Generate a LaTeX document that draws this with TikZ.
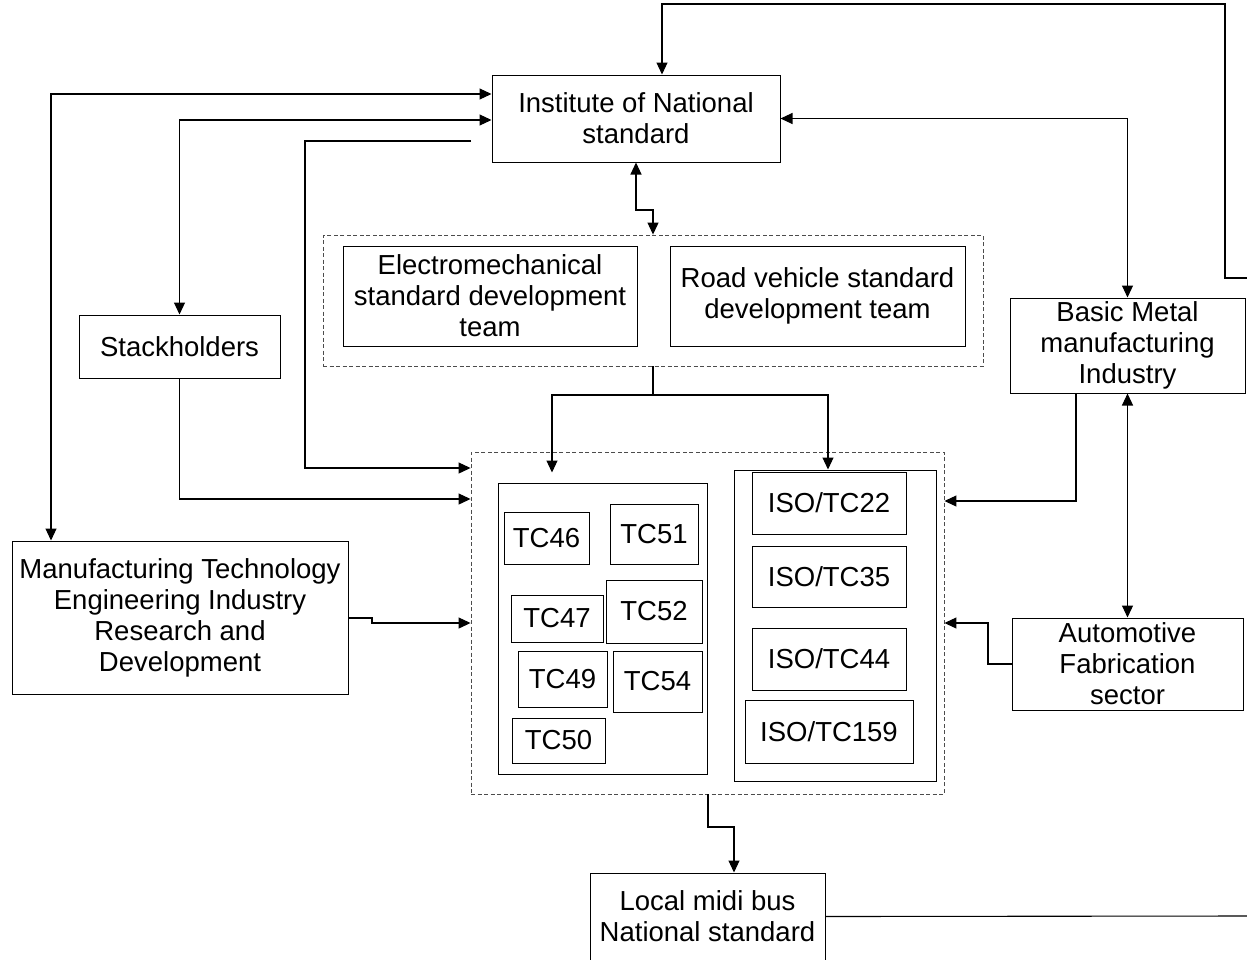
\documentclass[tikz,border=0pt]{standalone}
\usepackage{fontspec}
\setmainfont{Liberation Sans}
\usetikzlibrary{arrows.meta}
\begin{document}
\begin{tikzpicture}[x=1pt,y=-1pt,
  every node/.style={font=\fontsize{27.5}{31}\selectfont, align=center, inner sep=0pt},
  box/.style={draw=black, line width=1pt, rectangle},
  dbox/.style={draw=gray!60!black, line width=0.9pt, dash pattern=on 4pt off 2.5pt, rectangle},
  conn/.style={line width=1.1pt, -{Triangle[length=12pt,width=11pt]}},
  bconn/.style={line width=1.1pt, {Triangle[length=12pt,width=11pt]}-{Triangle[length=12pt,width=11pt]}},
  plain/.style={line width=1.1pt}]
\useasboundingbox (0,0) rectangle (1247,959);

% main boxes
\node[box, minimum width=288, minimum height=87] (inst) at (636,118.5) {Institute of National\\standard};
\node[dbox, minimum width=660, minimum height=131] (teams) at (653,300.5) {};
\node[box, minimum width=294, minimum height=100] (em) at (490,296) {Electromechanical\\standard development\\team};
\node[box, minimum width=295, minimum height=100] (road) at (817.5,296) {Road vehicle standard\\development team};
\node[box, minimum width=201, minimum height=63] (stk) at (179.5,346.5) {Stackholders};
\node[box, minimum width=336, minimum height=153] (mfg) at (180,617.5) {Manufacturing Technology\\Engineering Industry\\Research and\\Development};
\node[box, minimum width=235, minimum height=95] (metal) at (1127.5,345.5) {Basic Metal\\manufacturing\\Industry};
\node[box, minimum width=231, minimum height=92] (auto) at (1127.5,664) {Automotive\\Fabrication\\sector};
\node[box, minimum width=235, minimum height=87] (local) at (707.5,916.5) {Local midi bus\\National standard};

% technical committee groups
\node[dbox, minimum width=473, minimum height=342] (tcs) at (707.5,623) {};
\node[box, minimum width=209, minimum height=291] (tcgrp) at (602.5,628.5) {};
\node[box, minimum width=202, minimum height=311] (isogrp) at (835,625.5) {};

\node[box, minimum width=85, minimum height=52] (tc46) at (546.5,538) {TC46};
\node[box, minimum width=88, minimum height=60] (tc51) at (654,534) {TC51};
\node[box, minimum width=92, minimum height=47] (tc47) at (557,618.5) {TC47};
\node[box, minimum width=96, minimum height=63] (tc52) at (654,611.5) {TC52};
\node[box, minimum width=89, minimum height=56] (tc49) at (562.5,679) {TC49};
\node[box, minimum width=89, minimum height=61] (tc54) at (657.5,681.5) {TC54};
\node[box, minimum width=93, minimum height=45] (tc50) at (558.5,740.5) {TC50};

\node[box, minimum width=154, minimum height=62] (iso22) at (829,503) {ISO/TC22};
\node[box, minimum width=154, minimum height=61] (iso35) at (829,576.5) {ISO/TC35};
\node[box, minimum width=154, minimum height=62] (iso44) at (829,659) {ISO/TC44};
\node[box, minimum width=168, minimum height=63] (iso159) at (829,731.5) {ISO/TC159};

% free ends of connectors
\coordinate (instL) at (471,141);
\coordinate (edgeTop) at (1247,278);
\coordinate (edgeBot) at (1247,916);

% connectors
\draw[conn] (edgeTop) -- (1225,278) -- (1225,4) -| (inst.north -| 662,0);
\draw[bconn] (mfg.north -| 51,0) |- (inst.west |- 0,94);
\draw[bconn] (stk.north) |- (inst.west |- 0,120);
\draw[conn] (instL) -| (305,468) -- (tcs.west |- 0,468);
\draw[conn] (stk.south) |- (tcs.west |- 0,499);
\draw[conn] (mfg.east |- 0,618) -- (372,618) -- (372,623) -- (tcs.west |- 0,623);
\draw[bconn] (inst.south) -- (636,210) -- (653,210) -- (teams.north);
\draw[conn, shorten >=10pt] (teams.south) -- (653,395) -| (tcgrp.north -| 552,0);
\draw[conn] (teams.south) -- (653,395) -| (isogrp.north -| 828,0);
\draw[bconn] (inst.east) -| (metal.north);
\draw[conn] (metal.south -| 1076,0) |- (tcs.east |- 0,501);
\draw[bconn] (metal.south) -- (auto.north);
\draw[conn] (auto.west) -- (988,664) -- (988,623) -- (tcs.east |- 0,623);
\draw[conn] (tcs.south -| 708,0) -- (708,827) -- (734,827) -- (local.north -| 734,0);
\draw[plain] (local.east) -- (edgeBot);
\end{tikzpicture}
\end{document}
